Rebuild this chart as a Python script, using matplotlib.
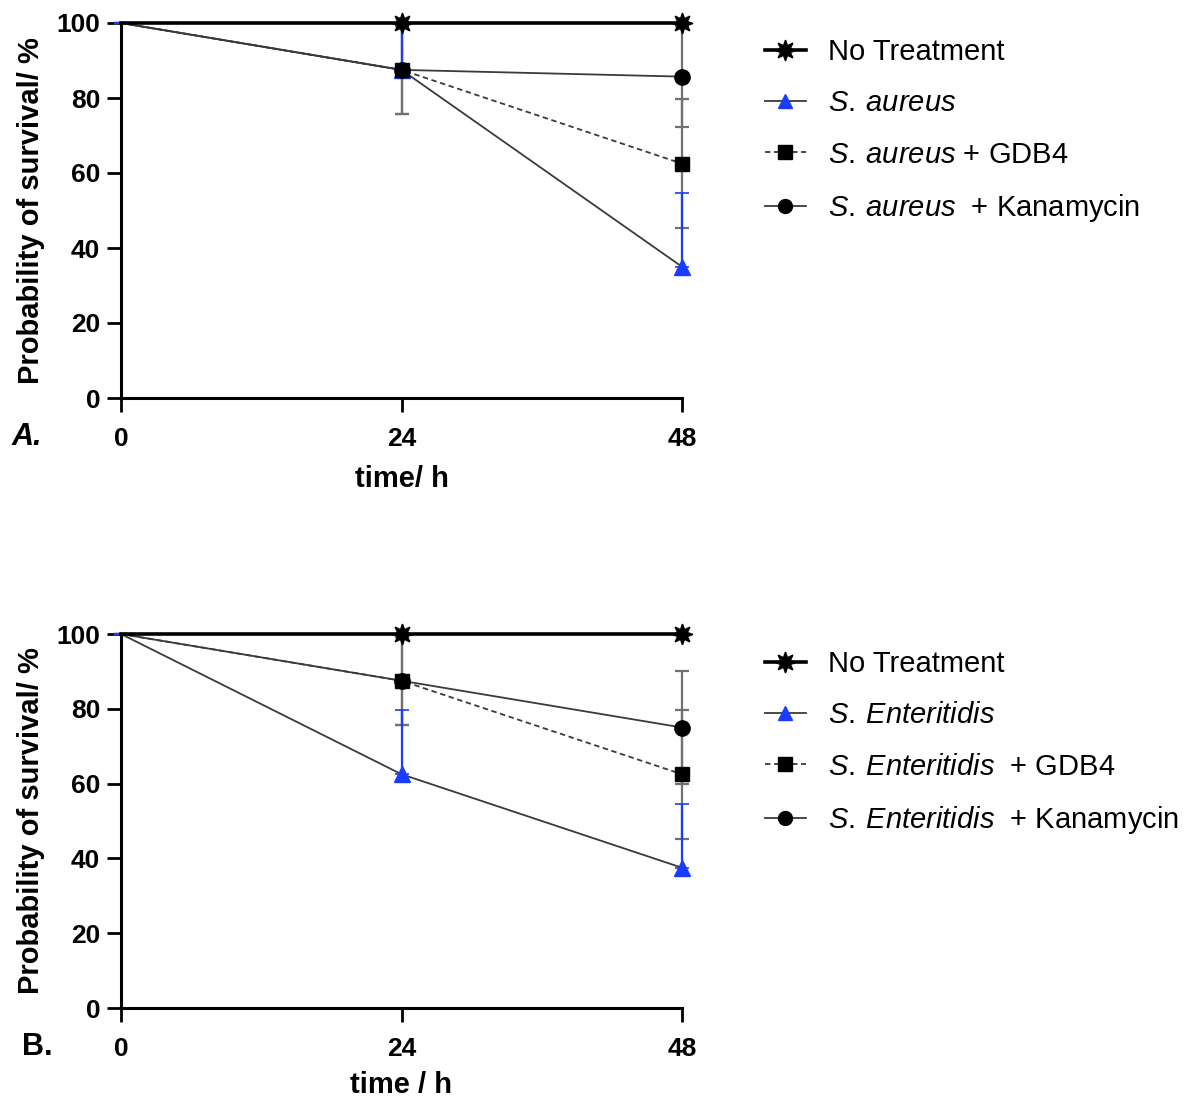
import numpy as np
import matplotlib.pyplot as plt
from matplotlib import rcParams

rcParams['font.family'] = ['Liberation Sans', 'DejaVu Sans']
rcParams['mathtext.fontset'] = 'custom'
rcParams['mathtext.it'] = 'Liberation Sans:italic'
rcParams['mathtext.rm'] = 'Liberation Sans'

# time points (h)
time = [0, 24, 48]

# panel A - S. aureus
a_none = [100, 100, 100]
a_bact = [100, 87.5, 35]
a_bact_err = [0, 12.5, 19.6]      # upper only
a_gdb4 = [100, 87.5, 62.5]
a_gdb4_err = [0, 11.8, 17.2]
a_kana = [100, 87.5, 85.7]
a_kana_err = [0, 11.8, 13.4]
a_labels = ['No Treatment', r'$\it{S.\:aureus}$', r'$\it{S.\:aureus}$ + GDB4',
            r'$\it{S.\:aureus}$  + Kanamycin']

# panel B - S. Enteritidis
b_none = [100, 100, 100]
b_bact = [100, 62.5, 37.5]
b_bact_err = [0, 17.2, 17.0]      # upper only
b_gdb4 = [100, 87.5, 62.5]
b_gdb4_err = [0, 11.7, 17.2]
b_kana = [100, 87.5, 75]
b_kana_err = [0, 11.7, 15.0]
b_labels = ['No Treatment', r'$\it{S.\:Enteritidis}$',
            r'$\it{S.\:Enteritidis}$  + GDB4',
            r'$\it{S.\:Enteritidis}$  + Kanamycin']

blue = '#1a3cff'
line_col = '#3a3a3a'
err_col = '#707070'


def draw_panel(ax, none, bact, bact_err, gdb4, gdb4_err, kana, kana_err):
    zero = [0, 0, 0]
    # error bars
    ax.errorbar(time, kana, yerr=[kana_err, kana_err], fmt='none', ecolor=err_col,
                elinewidth=1.6, capsize=5, capthick=1.6, clip_on=False, zorder=2)
    ax.errorbar(time, gdb4, yerr=[gdb4_err, gdb4_err], fmt='none', ecolor=err_col,
                elinewidth=1.6, capsize=5, capthick=1.6, clip_on=False, zorder=2)
    ax.errorbar(time, bact, yerr=[zero, bact_err], fmt='none', ecolor=blue,
                elinewidth=1.6, capsize=5, capthick=1.2, clip_on=False, zorder=2)

    # lines (no marker at t = 0)
    ax.plot(time, none, color='black', lw=2.6, marker=(8, 1, 0), ms=15,
            markevery=[1, 2], clip_on=False, zorder=5)
    ax.plot(time, bact, color=line_col, lw=1.3, marker='^', ms=11, mfc=blue, mec=blue,
            markevery=[1, 2], clip_on=False, zorder=4)
    ax.plot(time, gdb4, color=line_col, lw=1.3, ls=(0, (3, 2)), marker='s', ms=10,
            mfc='black', mec='black', markevery=[1, 2], clip_on=False, zorder=4)
    ax.plot(time, kana, color=line_col, lw=1.3, marker='o', ms=11, mfc='black',
            mec='black', markevery=[1, 2], clip_on=False, zorder=4)

    ax.set_xlim(0, 48)
    ax.set_ylim(0, 100)
    ax.set_xticks(time)
    ax.set_yticks([0, 20, 40, 60, 80, 100])
    for s in ['top', 'right']:
        ax.spines[s].set_visible(False)
    for s in ['left', 'bottom']:
        ax.spines[s].set_linewidth(2.2)
    ax.tick_params(axis='both', length=10, width=2, labelsize=19)
    ax.tick_params(axis='x', pad=11)
    ax.tick_params(axis='y', pad=5)
    for lab in ax.get_xticklabels() + ax.get_yticklabels():
        lab.set_fontweight('bold')
    ax.set_ylabel('Probability of survival/ %', fontsize=21, fontweight='bold', labelpad=8)

    hl = [
        plt.Line2D([], [], color='black', lw=2.6, marker=(8, 1, 0), ms=15),
        plt.Line2D([], [], color=line_col, lw=1.3, marker='^', ms=10, mfc=blue, mec=blue),
        plt.Line2D([], [], color=line_col, lw=1.3, ls=(0, (3, 2)), marker='s', ms=10,
                   mfc='black', mec='black'),
        plt.Line2D([], [], color=line_col, lw=1.3, marker='o', ms=10, mfc='black', mec='black'),
    ]
    return hl


fig = plt.figure(figsize=(11.86, 11), dpi=100)
ax_a = fig.add_axes([121 / 1186, 1 - 398 / 1100, 561 / 1186, 375 / 1100])
ax_b = fig.add_axes([121 / 1186, 1 - 1008 / 1100, 561 / 1186, 374 / 1100])

hA = draw_panel(ax_a, a_none, a_bact, a_bact_err, a_gdb4, a_gdb4_err, a_kana, a_kana_err)
hB = draw_panel(ax_b, b_none, b_bact, b_bact_err, b_gdb4, b_gdb4_err, b_kana, b_kana_err)

ax_a.set_xlabel('time/ h', fontsize=21, fontweight='bold', labelpad=10)
ax_b.set_xlabel('time / h', fontsize=21, fontweight='bold', labelpad=7)

leg_kw = dict(loc='upper left', frameon=False, fontsize=21, handlelength=1.4,
              handletextpad=0.75, labelspacing=0.8, borderpad=0, borderaxespad=0)
fig.legend(hA, a_labels, bbox_to_anchor=(765 / 1186, 1 - 38 / 1100), **leg_kw)
fig.legend(hB, b_labels, bbox_to_anchor=(765 / 1186, 1 - 650 / 1100), **leg_kw)

fig.text(12 / 1186, 1 - 437 / 1100, 'A.', fontsize=22, fontweight='bold', style='italic',
         va='center', ha='left')
fig.text(22 / 1186, 1 - 1047 / 1100, 'B.', fontsize=22, fontweight='bold',
         va='center', ha='left')

fig.savefig('out.png', dpi=100)
